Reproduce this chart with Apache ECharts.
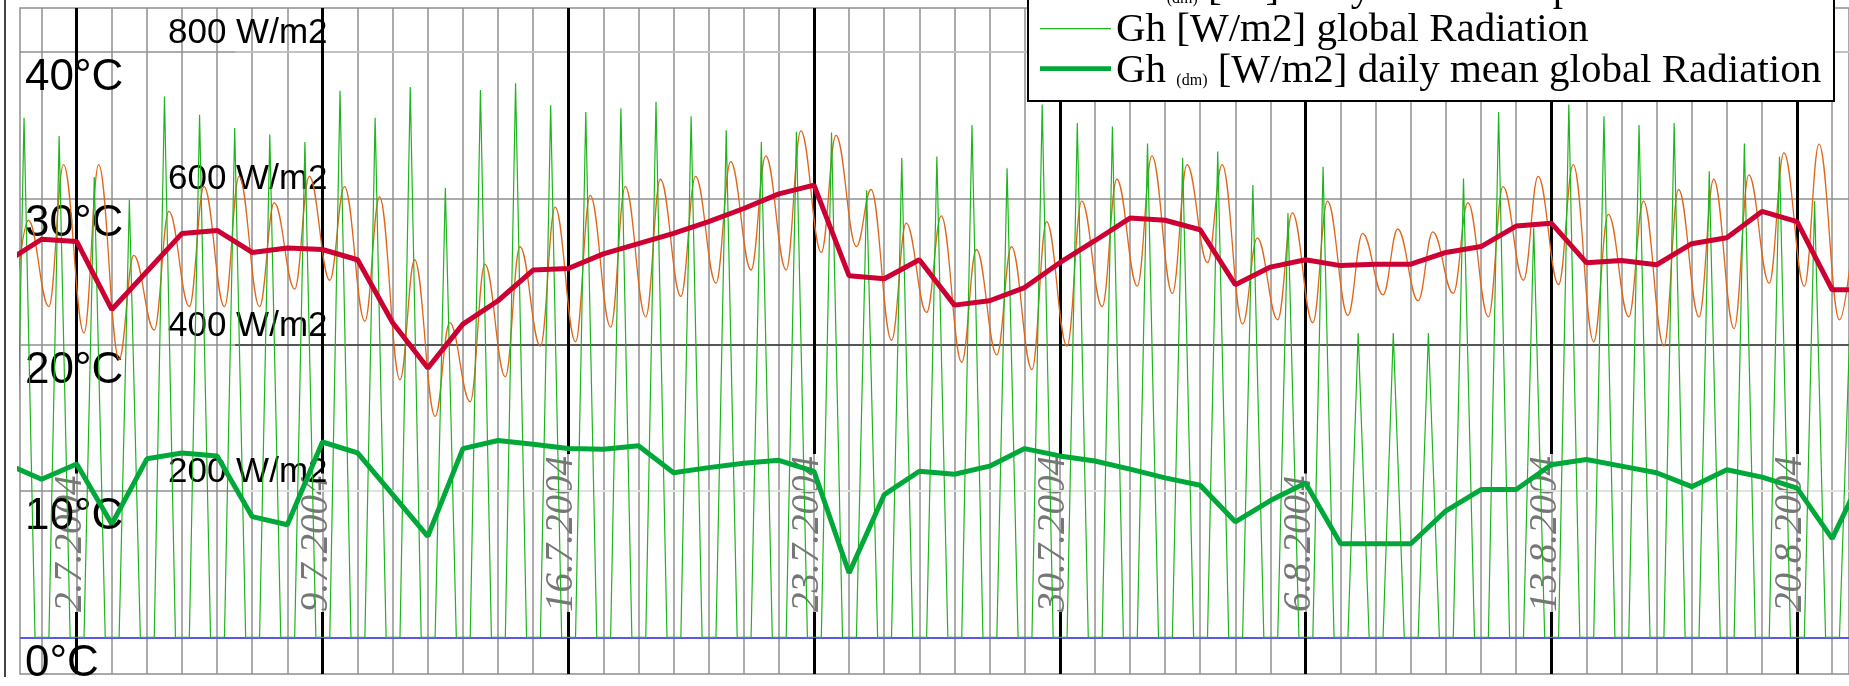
<!DOCTYPE html>
<html><head><meta charset="utf-8">
<script src="https://cdn.jsdelivr.net/npm/echarts@6/dist/echarts.min.js"></script>
<style>html,body{margin:0;padding:0;background:#fff}#c{width:1849px;height:686px}</style>
</head><body><div id="c"></div>
<script>
// x unit: days since 1.7.2004 00:00 ; daily arrays start at 30.6.2004 (day -1)
const firstDay = -1;
const xMin = -0.615, xMax = 51.48;
const yMin = -2.5, yMax = 43;
// key values read per day (30.6 ... 21.8)
const tempMin = [22.0,22.6,20.8,19.0,21.0,22.6,22.6,22.6,23.8,24.4,21.6,17.6,15.1,16.1,17.8,19.9,20.2,21.2,21.9,23.3,24.2,25.1,25.1,26.3,26.7,20.3,22.2,18.8,19.3,18.3,19.9,22.6,24.0,23.5,25.6,21.4,21.7,21.5,22.0,23.4,23.0,23.5,21.9,24.4,24.1,20.2,21.9,19.9,21.9,21.1,24.2,24.0,21.7];
const tempMax = [28.5,32.3,32.3,26.1,29.1,30.8,31.5,29.7,31.5,30.8,30.1,25.8,21.5,25.5,26.7,29.4,30.2,30.8,31.3,31.5,32.5,32.9,34.6,34.3,30.6,28.3,28.8,26.5,26.7,28.4,29.8,31.3,32.9,32.3,32.3,27.3,29.0,29.8,27.6,27.9,27.7,29.7,30.8,31.5,32.3,28.9,29.8,30.6,31.3,31.6,33.1,33.7,28.0];
const radPeak = [710,685,629,598,739,714,696,687,677,747,710,752,614,748,757,727,718,723,732,712,693,677,691,690,611,655,657,700,641,728,703,698,675,655,664,618,580,643,416,416,416,627,718,560,728,712,700,703,637,675,657,596,416];
// daily means, plotted at each day's 00:00 (30.6 ... 22.8)
const tempMean = [25.66,27.2,27.05,22.4,25.0,27.6,27.8,26.3,26.6,26.5,25.8,21.5,18.4,21.4,23.0,25.1,25.2,26.2,26.9,27.6,28.4,29.3,30.3,30.9,24.7,24.5,25.8,22.7,23.0,23.9,25.6,27.1,28.65,28.5,27.85,24.1,25.3,25.8,25.4,25.5,25.5,26.3,26.7,28.1,28.3,25.6,25.75,25.46,26.9,27.3,29.1,28.4,23.75,23.75];
const radMean = [237,216,237,155,244,252,248,165,154,267,252,195,138,258,269,264,258,257,262,225,232,238,242,227,88,195,227,223,234,258,248,241,230,218,208,158,187,211,128,128,128,173,202,202,236,243,234,225,206,229,219,204,135,235];
// ticks
const weekDays = [1,8,15,22,29,36,43,50];
const weekLabels = ['2.7.2004','9.7.2004','16.7.2004','23.7.2004','30.7.2004','6.8.2004','13.8.2004','20.8.2004'];
const tempTicks = [0,10,20,30,40];
const radTicks = [200,400,600,800];
const names = ['Ta [°C] Temperature','Ta (dm) [°C] daily mean Temperature','Gh [W/m2] global Radiation','Gh (dm) [W/m2] daily mean global Radiation'];

const dayTicks = [];
for (let d = 0; d <= 51; d++) dayTicks.push(d);

const tempData = [], radData = [];
tempMin.forEach((v, i) => {
  const d = firstDay + i;
  tempData.push([d + 5/24, v], [d + 15/24, tempMax[i]]);
  radData.push([d + 5/24, 0], [d + 12/24, radPeak[i]], [d + 19.5/24, 0]);
});
const tempMeanData = tempMean.map((v, i) => [firstDay + i, v]);
const radMeanData = radMean.map((v, i) => [firstDay + i, v]);

// decoration: W/m2 grid lines (right part), zero line, weekly black lines broken behind the date labels
const radGridFrom = 5.51;
function hLine(y, color, from) {
  return [{coord:[from, y], lineStyle:{color:color, width:1.5, type:'solid'}}, {coord:[xMax, y]}];
}
const labelFontSize = 39, labelMargin = 62;
const gridH = 666, pxPerDeg = gridH / (yMax - yMin);
const mctx = document.createElement('canvas').getContext('2d');
mctx.font = 'italic ' + labelFontSize + 'px "Liberation Serif"';
const labelBaseT = yMin + labelMargin / pxPerDeg;
const weekLines = [];
weekDays.forEach((d, j) => {
  const w = mctx.measureText(weekLabels[j]).width;
  const topT = labelBaseT + (w + 2) / pxPerDeg;
  weekLines.push([{coord:[d, yMin]}, {coord:[d, labelBaseT]}]);
  weekLines.push([{coord:[d, topT]}, {coord:[d, yMax]}]);
});

// legend icons: a line lying slightly below the text middle
const thinIcon = 'path://M0,0L71,0L71,0.01ZM0,7.4L71,7.4L71,8.8L0,8.8ZM0,20L71,20L71,20.01Z';
const thickIcon = 'path://M0,0L71,0L71,0.01ZM0,4.8L71,4.8L71,9.4L0,9.4ZM0,20L71,20L71,20.01Z';

const chart = echarts.init(document.getElementById('c'), null, {renderer:'canvas'});
chart.setOption({
  animation: false,
  backgroundColor: '#fff',
  grid: {left: 20, right: 0, top: 8, bottom: 12, show: true, borderColor: '#8f8f8f', borderWidth: 1.5, containLabel: false, outerBoundsMode: 'none'},
  legend: {
    data: [
      {name: names[0], icon: thinIcon},
      {name: names[1], icon: thickIcon},
      {name: names[2], icon: thinIcon},
      {name: names[3], icon: thickIcon}
    ],
    z: 20,
    orient: 'vertical', right: 15, top: -76,
    backgroundColor: '#fff', borderColor: '#000', borderWidth: 2, borderRadius: 0,
    padding: [4, 3, 9, 12], itemGap: 0, itemWidth: 71, itemHeight: 20,
    itemStyle: {borderWidth: 0},
    formatter: n => n.replace('(dm)', '{s|(dm)}'),
    textStyle: {fontFamily: 'Liberation Serif', fontSize: 41, color: '#000', lineHeight: 35.5, width: 715,
      rich: {s: {fontFamily: 'Liberation Serif', fontSize: 16, lineHeight: 20, verticalAlign: 'bottom', color: '#000'}}}
  },
  xAxis: [
    {type: 'value', min: xMin, max: xMax, position: 'bottom',
     axisLine: {show: false}, axisTick: {show: false, customValues: dayTicks}, axisLabel: {show: false},
     splitLine: {show: true, lineStyle: {color: '#8f8f8f', width: 1.5}}},
    {type: 'value', min: xMin, max: xMax, position: 'bottom',
     axisLine: {show: false}, axisTick: {show: false, customValues: weekDays},
     axisLabel: {show: true, customValues: weekDays, inside: true, rotate: 90, margin: labelMargin,
       align: 'left', verticalAlign: 'middle', lineHeight: 12,
       formatter: v => weekLabels[weekDays.indexOf(Math.round(v))] + '\n ',
       color: '#767676', fontStyle: 'italic', fontFamily: 'Liberation Serif', fontSize: labelFontSize},
     splitLine: {show: false}}
  ],
  yAxis: [
    {type: 'value', min: yMin, max: yMax, position: 'left', z: 1,
     axisLine: {show: false}, axisTick: {show: false, customValues: tempTicks},
     axisLabel: {customValues: tempTicks, inside: true, margin: 5, formatter: '{value}°C', padding: [4, 0, 0, 0],
       fontFamily: 'Liberation Sans', fontSize: 44, lineHeight: 44, color: '#000', align: 'left', verticalAlign: 'top'},
     splitLine: {show: true, lineStyle: {color: '#8f8f8f', width: 1.5}}},
    {type: 'value', min: yMin * 20, max: yMax * 20, position: 'left', z: 1,
     axisLine: {show: false}, axisTick: {show: false, customValues: radTicks},
     axisLabel: {customValues: radTicks, inside: true, margin: 148, formatter: '{value} W/m2',
       fontFamily: 'Liberation Sans', fontSize: 35, lineHeight: 35, padding: [0, 0, 1, 0], color: '#000', align: 'left', verticalAlign: 'bottom'},
     splitLine: {show: false}}
  ],
  series: [
    {type: 'line', name: '_wgrid', data: [], xAxisIndex: 0, yAxisIndex: 1, silent: true,
     markLine: {z: 1, silent: true, symbol: ['none', 'none'], label: {show: false}, lineStyle: {type: 'solid'},
       emphasis: {disabled: true},
       data: [
         hLine(800, '#cacaca', radGridFrom),
         hLine(400, '#3a3a3a', radGridFrom),
         hLine(200, '#eef8ee', radGridFrom)
       ]}},
    {type: 'line', name: '_tgrid', data: [], xAxisIndex: 0, yAxisIndex: 0, silent: true,
     markLine: {z: 1, silent: true, symbol: ['none', 'none'], label: {show: false},
       lineStyle: {type: 'solid', color: '#000', width: 3}, emphasis: {disabled: true},
       data: [[{coord:[xMin, 0], lineStyle:{color:'#3c3cff', width:1.5, type:'solid'}}, {coord:[xMax, 0]}]].concat(weekLines)}},
    {type: 'line', name: names[0], data: tempData, xAxisIndex: 0, yAxisIndex: 0, symbol: 'none', smooth: 0.4, smoothMonotone: 'x',
     color: '#e0661a', lineStyle: {color: '#e0661a', width: 1.3}},
    {type: 'line', name: names[2], data: radData, xAxisIndex: 0, yAxisIndex: 1, symbol: 'none',
     color: '#1db41d', lineStyle: {color: '#1db41d', width: 1.2}},
    {type: 'line', name: names[1], data: tempMeanData, xAxisIndex: 0, yAxisIndex: 0, symbol: 'none',
     color: '#cc0033', lineStyle: {color: '#cc0033', width: 5}},
    {type: 'line', name: names[3], data: radMeanData, xAxisIndex: 0, yAxisIndex: 1, symbol: 'none',
     color: '#00a83a', lineStyle: {color: '#00a83a', width: 5}}
  ],
  graphic: [
    {type: 'line', shape: {x1: 5, y1: 0, x2: 5, y2: 677}, style: {stroke: '#444', lineWidth: 2}, silent: true}
  ]
});
</script>
</body></html>
